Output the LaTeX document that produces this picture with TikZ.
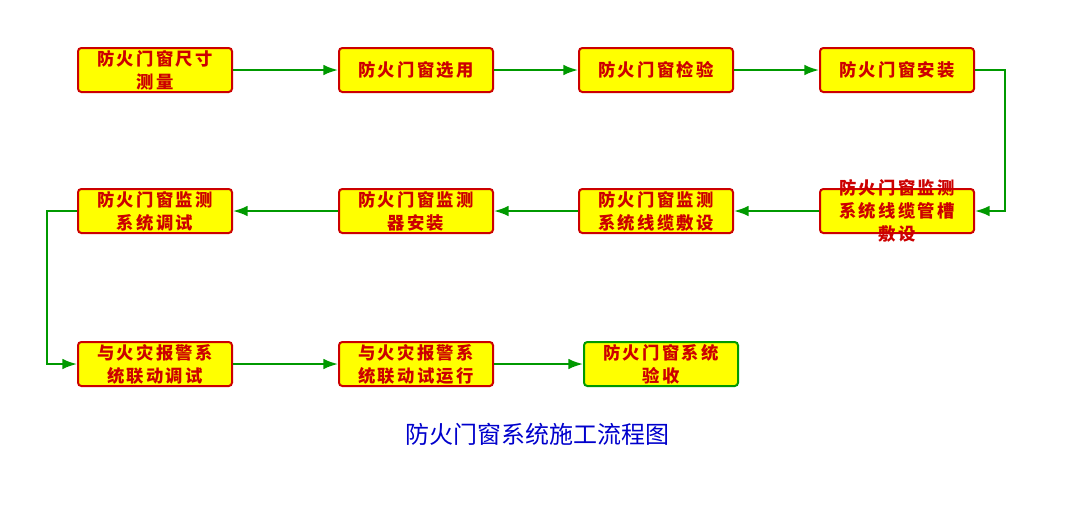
\documentclass[tikz,border=0pt]{standalone}
\usepackage{fontspec}
\usetikzlibrary{arrows.meta}
\tikzset{>={Latex[length=11pt,width=8pt]}}
\newfontfamily\cjkbox{Noto Sans CJK SC}[LetterSpace=13]
\newfontfamily\cjktitle{Noto Sans CJK SC}
\definecolor{boxred}{HTML}{CC0000}
\definecolor{boxyellow}{HTML}{FFFF00}
\definecolor{flowgreen}{HTML}{009900}
\definecolor{titleblue}{HTML}{0000CC}
\newcommand{\steptext}[1]{\smash{\raisebox{-4.5pt}{\begin{tabular}{@{}c@{}}#1\end{tabular}}}}

\begin{document}
\begin{tikzpicture}[x=0.75pt, y=-0.75pt,
    stepbox/.style={draw=boxred, fill=boxyellow, line width=1.5pt, rounded corners=2.5pt,
      minimum width=115.5pt, minimum height=33pt, inner sep=0pt, text=boxred,
      font=\cjkbox\bfseries\fontsize{13}{17.25}\selectfont},
    flow/.style={flowgreen, line width=1.5pt, ->}]
    \useasboundingbox (0, 0) rectangle (1066, 519);
    % first row
    \node[stepbox] (a1) at (155, 70) {\steptext{防火门窗尺寸\\测量}};
    \node[stepbox] (a2) at (416, 70) {\steptext{防火门窗选用}};
    \node[stepbox] (a3) at (656, 70) {\steptext{防火门窗检验}};
    \node[stepbox] (a4) at (897, 70) {\steptext{防火门窗安装}};
    % second row
    \node[stepbox] (b4) at (897, 211) {\steptext{防火门窗监测\\系统线缆管槽\\敷设}};
    \node[stepbox] (b3) at (656, 211) {\steptext{防火门窗监测\\系统线缆敷设}};
    \node[stepbox] (b2) at (416, 211) {\steptext{防火门窗监测\\器安装}};
    \node[stepbox] (b1) at (155, 211) {\steptext{防火门窗监测\\系统调试}};
    % third row
    \node[stepbox] (c1) at (155, 364) {\steptext{与火灾报警系\\统联动调试}};
    \node[stepbox] (c2) at (416, 364) {\steptext{与火灾报警系\\统联动试运行}};
    \node[stepbox, draw=flowgreen] (c3) at (661, 364) {\steptext{防火门窗系统\\验收}};
    \node[text=titleblue, font=\cjktitle\fontsize{18}{22}\selectfont] (title) at (537, 434) {防火门窗系统施工流程图};
    % connectors
    \draw[flow] (a1) -- (a2);
    \draw[flow] (a2) -- (a3);
    \draw[flow] (a3) -- (a4);
    \draw[flow] (a4.east) -- ++(30, 0) |- (b4.east);
    \draw[flow] (b4) -- (b3);
    \draw[flow] (b3) -- (b2);
    \draw[flow] (b2) -- (b1);
    \draw[flow] (b1.west) -- ++(-30, 0) |- (c1.west);
    \draw[flow] (c1) -- (c2);
    \draw[flow] (c2) -- (c3);
\end{tikzpicture}
\end{document}
